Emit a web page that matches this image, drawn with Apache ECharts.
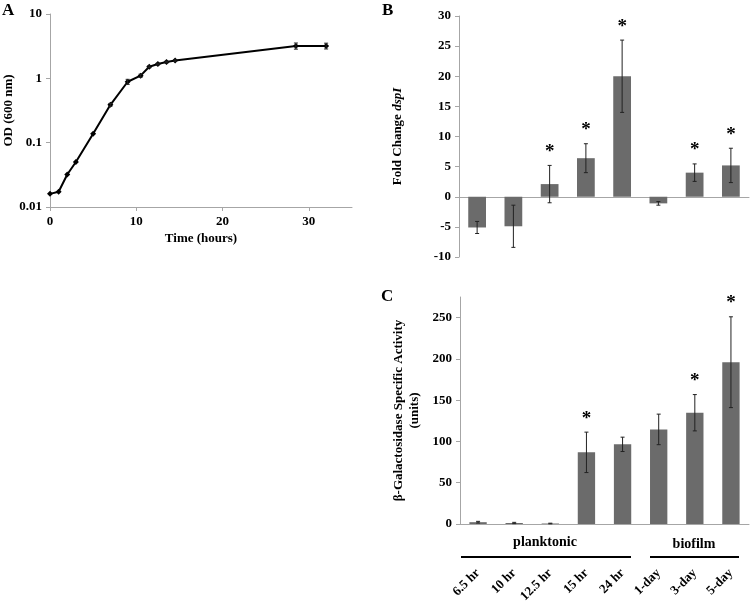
<!DOCTYPE html>
<html>
<head>
<meta charset="utf-8">
<script src="https://cdn.jsdelivr.net/npm/echarts@6/dist/echarts.min.js"></script>
<style>
html,body{margin:0;padding:0;background:#fff;}
#chart{width:750px;height:608px;}
</style>
</head>
<body>
<div id="chart"></div>
<script>
// ---- Panel A data ----
const timeHours = [0, 1, 2, 3, 5, 7, 9, 10.5, 11.5, 12.5, 13.5, 14.5, 28.5, 32];
const odValues  = [0.016, 0.0173, 0.032, 0.050, 0.138, 0.387, 0.885, 1.10, 1.51, 1.67, 1.79, 1.89, 3.19, 3.19];
const odErrors  = [0, 0, 0, 0, 0, 0.02, 0.08, 0.06, 0.05, 0.05, 0.05, 0.05, 0.35, 0.33];

// ---- Panel B/C categories ----
const categories = ['6.5 hr', '10 hr', '12.5 hr', '15 hr', '24 hr', '1-day', '3-day', '5-day'];

// ---- Panel B data ----
const foldChange = [-5.1, -4.9, 2.1, 6.4, 20.0, -1.1, 4.0, 5.2];
const foldErr    = [1.0, 3.5, 3.1, 2.4, 6.0, 0.3, 1.45, 2.85];
const foldSig    = [0, 0, 1, 1, 1, 0, 1, 1];

// ---- Panel C data ----
const activity    = [2.2, 1.2, 0.6, 86.8, 96.5, 114.6, 134.8, 196];
const activityErr = [1.0, 0.8, 0.4, 24.5, 8.7, 18.5, 22, 55];
const activitySig = [0, 0, 0, 1, 0, 0, 1, 1];
const activityTicks = [0, 50, 100, 150, 200, 250];

// ---- Group labels ----
const groupLabels = ['planktonic', 'biofilm'];

const FONT = "'Liberation Serif', 'Times New Roman', serif";
const AXIS_GRAY = '#a6a6a6';
const BAR_GRAY = '#6b6b6b';

function errorBarItem(params, api) {
  const x = api.value(0);
  const lo = api.value(1), hi = api.value(2);
  if (!(hi > lo)) return null;
  const top = api.coord([x, hi]);
  const bot = api.coord([x, lo]);
  const c = 2;
  const style = { stroke: '#222', lineWidth: 1 };
  return {
    type: 'group',
    children: [
      { type: 'line', shape: { x1: top[0], y1: top[1], x2: bot[0], y2: bot[1] }, style },
      { type: 'line', shape: { x1: top[0] - c, y1: top[1], x2: top[0] + c, y2: top[1] }, style },
      { type: 'line', shape: { x1: bot[0] - c, y1: bot[1], x2: bot[0] + c, y2: bot[1] }, style }
    ]
  };
}

function starItem(params, api) {
  const p = api.coord([api.value(0), api.value(1)]);
  return {
    type: 'text',
    style: { text: '*', x: p[0], y: p[1] - 4, align: 'center', verticalAlign: 'bottom',
             fontFamily: FONT, fontWeight: 'bold', fontSize: 19, fill: '#000' }
  };
}

const odErrData = timeHours.map((t, i) => [t, odValues[i] - odErrors[i], odValues[i] + odErrors[i]]);
const foldErrData = categories.map((c, i) => [i, foldChange[i] - foldErr[i], foldChange[i] + foldErr[i]]);
const foldStarData = categories.map((c, i) => [i, foldChange[i] + foldErr[i]]).filter((d, i) => foldSig[i]);
const actErrData = categories.map((c, i) => [i, Math.max(0, activity[i] - activityErr[i]), activity[i] + activityErr[i]]);
const actStarData = categories.map((c, i) => [i, activity[i] + activityErr[i]]).filter((d, i) => activitySig[i]);

const labelStyle = { color: '#000', fontFamily: FONT, fontWeight: 'bold', fontSize: 13 };
const nameStyle = { color: '#000', fontFamily: FONT, fontWeight: 'bold', fontSize: 13 };

const chart = echarts.init(document.getElementById('chart'), null, { renderer: 'canvas' });

const option = {
  backgroundColor: '#fff',
  animation: false,
  textStyle: { fontFamily: FONT },
  grid: [
    { left: 50, right: 398, top: 14, bottom: 401 },
    { left: 459, right: 1, top: 16, bottom: 351 },
    { left: 460, right: 1, top: 297, bottom: 84 }
  ],
  xAxis: [
    {
      gridIndex: 0, type: 'value', min: 0, max: 35, interval: 10,
      name: 'Time (hours)', nameLocation: 'middle', nameGap: 25, nameTextStyle: nameStyle,
      axisLine: { lineStyle: { color: AXIS_GRAY } },
      axisTick: { show: true, length: 4, lineStyle: { color: AXIS_GRAY } },
      axisLabel: Object.assign({ margin: 8, showMaxLabel: false }, labelStyle),
      splitLine: { show: false }
    },
    {
      gridIndex: 1, type: 'category', data: categories,
      axisLine: { onZero: true, lineStyle: { color: AXIS_GRAY } },
      axisTick: { show: false }, axisLabel: { show: false }
    },
    {
      gridIndex: 2, type: 'category', data: categories,
      axisLine: { lineStyle: { color: AXIS_GRAY } },
      axisTick: { show: false },
      axisLabel: { rotate: 45, margin: 47, interval: 0, fontSize: 13,
        color: '#000', fontFamily: FONT, fontWeight: 'bold' }
    }
  ],
  yAxis: [
    {
      gridIndex: 0, type: 'log', logBase: 10, min: 0.01, max: 10,
      name: 'OD (600 nm)', nameLocation: 'middle', nameGap: 31, nameTextStyle: nameStyle,
      axisLine: { show: true, lineStyle: { color: AXIS_GRAY } },
      axisTick: { show: true, length: 4, lineStyle: { color: AXIS_GRAY } },
      axisLabel: Object.assign({ margin: 8, formatter: v => String(+v.toPrecision(3)) }, labelStyle),
      splitLine: { show: false }, minorTick: { show: false }
    },
    {
      gridIndex: 1, type: 'value', min: -10, max: 30, interval: 5,
      name: '{b|Fold Change }{i|dspI}', nameLocation: 'middle', nameGap: 55,
      nameTextStyle: { rich: {
        b: { color: '#000', fontFamily: FONT, fontWeight: 'bold', fontSize: 13 },
        i: { color: '#000', fontFamily: FONT, fontWeight: 'bold', fontStyle: 'italic', fontSize: 13 }
      } },
      axisLine: { show: true, lineStyle: { color: AXIS_GRAY } },
      axisTick: { show: true, length: 4, lineStyle: { color: AXIS_GRAY } },
      axisLabel: Object.assign({ margin: 8 }, labelStyle),
      splitLine: { show: false }
    },
    {
      gridIndex: 2, type: 'value', min: 0, max: 275, interval: 50,
      name: 'β-Galactosidase Specific Activity\n(units)', nameLocation: 'middle', nameGap: 37,
      nameTextStyle: Object.assign({ lineHeight: 16 }, nameStyle),
      axisLine: { show: true, lineStyle: { color: AXIS_GRAY } },
      axisTick: { show: true, length: 4, customValues: activityTicks, lineStyle: { color: AXIS_GRAY } },
      axisLabel: Object.assign({ margin: 8, customValues: activityTicks }, labelStyle),
      splitLine: { show: false }
    }
  ],
  series: [
    {
      type: 'line', xAxisIndex: 0, yAxisIndex: 0,
      data: timeHours.map((t, i) => [t, odValues[i]]),
      symbol: 'diamond', symbolSize: 6, showSymbol: true,
      lineStyle: { color: '#000', width: 2 }, itemStyle: { color: '#000' }, z: 3
    },
    {
      type: 'custom', xAxisIndex: 0, yAxisIndex: 0, renderItem: errorBarItem,
      data: odErrData, encode: { x: 0, y: [1, 2] }, z: 4
    },
    {
      type: 'bar', xAxisIndex: 1, yAxisIndex: 1, data: foldChange, barWidth: '49%',
      itemStyle: { color: BAR_GRAY }
    },
    {
      type: 'custom', xAxisIndex: 1, yAxisIndex: 1, renderItem: errorBarItem,
      data: foldErrData, encode: { x: 0, y: [1, 2] }, z: 4
    },
    {
      type: 'custom', xAxisIndex: 1, yAxisIndex: 1, renderItem: starItem,
      data: foldStarData, encode: { x: 0, y: 1 }, z: 5
    },
    {
      type: 'bar', xAxisIndex: 2, yAxisIndex: 2, data: activity, barWidth: '48%',
      itemStyle: { color: BAR_GRAY }
    },
    {
      type: 'custom', xAxisIndex: 2, yAxisIndex: 2, renderItem: errorBarItem,
      data: actErrData, encode: { x: 0, y: [1, 2] }, z: 4
    },
    {
      type: 'custom', xAxisIndex: 2, yAxisIndex: 2, renderItem: starItem,
      data: actStarData, encode: { x: 0, y: 1 }, z: 5
    }
  ],
  graphic: [
    { type: 'text', left: 2, top: 2, style: { text: 'A', fontFamily: FONT, fontWeight: 'bold', fontSize: 17, fill: '#000' } },
    { type: 'text', left: 382, top: 2, style: { text: 'B', fontFamily: FONT, fontWeight: 'bold', fontSize: 17, fill: '#000' } },
    { type: 'text', left: 381, top: 288, style: { text: 'C', fontFamily: FONT, fontWeight: 'bold', fontSize: 17, fill: '#000' } },
    { type: 'text', x: 545, y: 542, style: { text: groupLabels[0], align: 'center', verticalAlign: 'middle', font: "bold 14px 'Liberation Serif'", fill: '#000' } },
    { type: 'text', x: 694, y: 544, style: { text: groupLabels[1], align: 'center', verticalAlign: 'middle', font: "bold 14px 'Liberation Serif'", fill: '#000' } },
    { type: 'line', shape: { x1: 461, y1: 557, x2: 631, y2: 557 }, style: { stroke: '#000', lineWidth: 2 } },
    { type: 'line', shape: { x1: 650, y1: 557, x2: 739, y2: 557 }, style: { stroke: '#000', lineWidth: 2 } }
  ]
};

chart.setOption(option);
</script>
</body>
</html>
